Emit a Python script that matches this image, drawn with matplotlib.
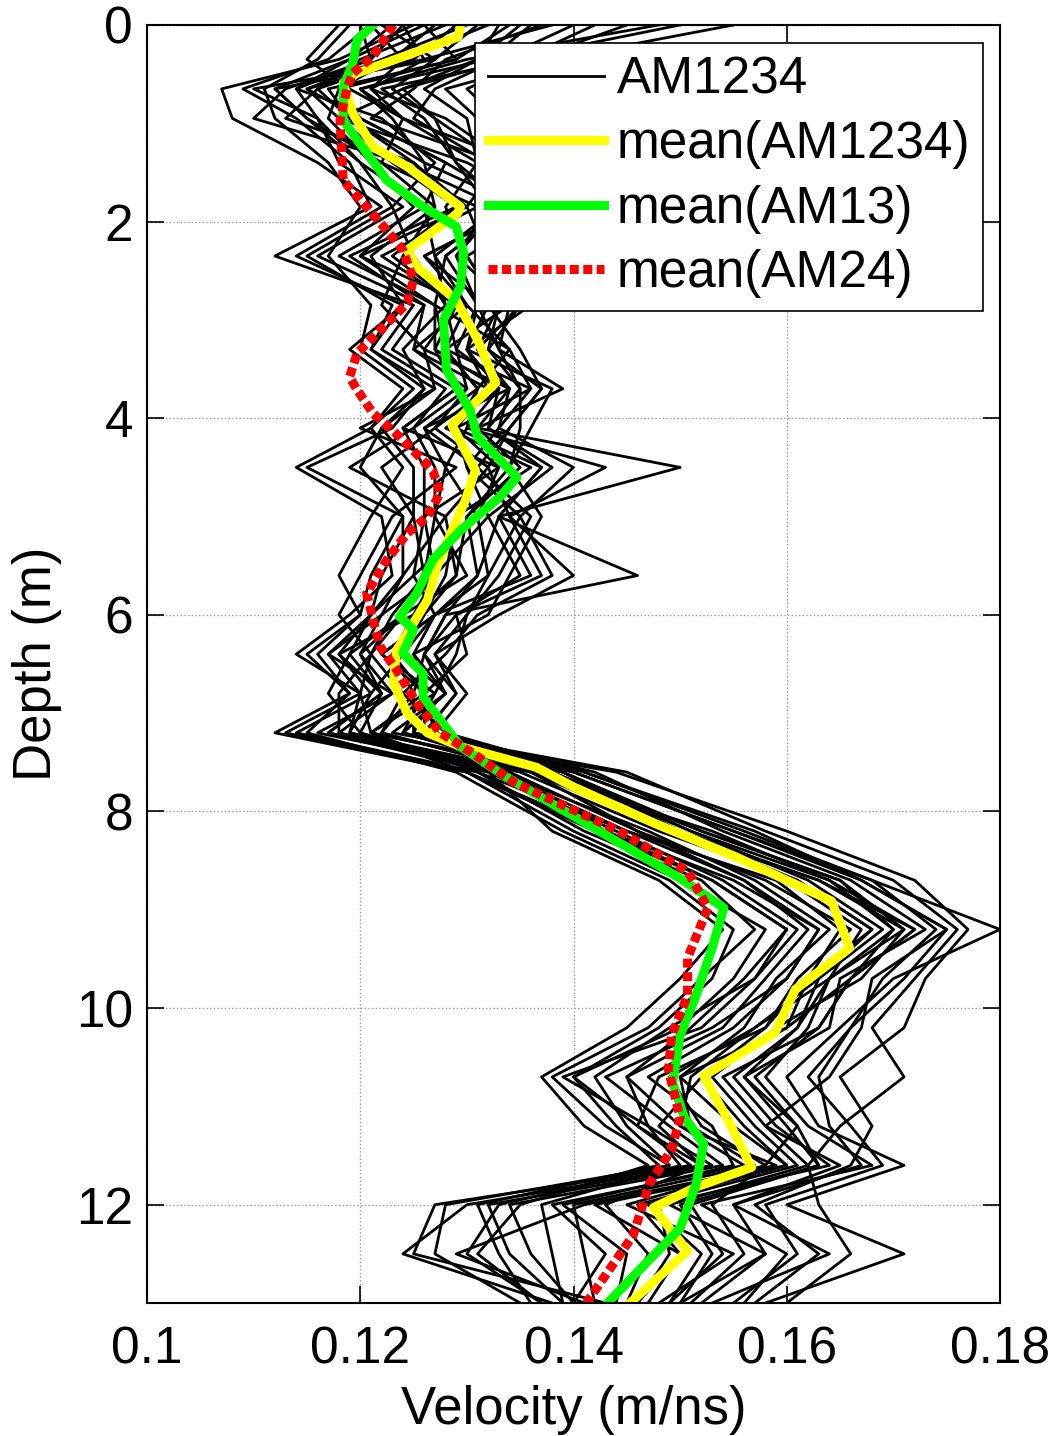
import numpy as np
import matplotlib
matplotlib.use("Agg")
import matplotlib.pyplot as plt

plt.rcParams['font.family'] = ['Liberation Sans', 'DejaVu Sans']

# depths (m) at which the individual AM1234 profiles are sampled
depth = [0.0, 0.35, 0.65, 0.95, 1.4, 1.85, 2.35, 2.85, 3.3, 3.7, 4.1, 4.5, 5.0, 5.6, 6.0,
         6.4, 6.8, 7.2, 7.6, 8.2, 8.7, 9.2, 9.7, 10.2, 10.7, 11.2, 11.6, 12.0, 12.5, 13.0]

# individual velocity profiles, mm/ns
profiles = [
    [125, 118, 107, 108, 116, 122, 114, 124, 121, 126, 123, 115, 124, 121, 120, 115, 119, 112, 130, 140, 150, 158, 155, 150, 140, 146, 152, 130, 124, 138],
    [155, 138, 128, 131, 136, 133, 129, 134, 133, 139, 131, 150, 133, 146, 128, 126, 129, 126, 140, 155, 168, 180, 170, 165, 160, 163, 171, 160, 171, 158],
    [130, 122, 115, 120, 128, 135, 126, 130, 134, 136, 129, 133, 131, 125, 127, 122, 126, 124, 137, 150, 163, 172, 166, 160, 150, 155, 160, 142, 150, 146],
    [122, 127, 112, 115, 120, 126, 118, 127, 128, 131, 126, 128, 127, 130, 124, 119, 122, 117, 133, 145, 156, 162, 158, 154, 145, 150, 156, 138, 143, 140],
    [135, 131, 124, 118, 130, 138, 130, 133, 131, 134, 133, 140, 135, 138, 131, 128, 124, 128, 141, 157, 167, 175, 168, 167, 164, 158, 165, 155, 158, 152],
    [118, 115, 119, 124, 122, 127, 121, 124, 119, 124, 121, 114, 122, 123, 119, 114, 120, 121, 131, 141, 152, 157, 152, 147, 138, 143, 149, 128, 127, 135],
    [140, 133, 127, 125, 132, 131, 134, 132, 135, 137, 134, 131, 136, 133, 130, 129, 127, 125, 145, 158, 170, 176, 172, 168, 171, 165, 162, 163, 166, 160],
    [128, 120, 116, 113, 125, 129, 123, 129, 127, 133, 128, 136, 129, 128, 126, 124, 121, 119, 135, 148, 161, 168, 163, 157, 149, 152, 158, 145, 155, 148],
    [124, 126, 110, 116, 118, 124, 116, 126, 123, 129, 124, 126, 126, 127, 122, 117, 123, 116, 134, 143, 155, 163, 160, 153, 143, 149, 154, 134, 136, 140],
    [132, 124, 121, 128, 134, 140, 131, 135, 131, 133, 130, 143, 134, 140, 133, 127, 130, 127, 138, 152, 165, 170, 164, 162, 158, 162, 168, 152, 160, 156],
    [120, 121, 113, 110, 124, 133, 127, 128, 129, 130, 127, 122, 125, 126, 123, 121, 124, 122, 136, 146, 158, 166, 161, 158, 152, 148, 152, 143, 147, 145],
    [145, 136, 130, 133, 140, 136, 135, 136, 130, 138, 136, 134, 137, 134, 132, 125, 128, 123, 144, 160, 172, 177, 173, 171, 165, 168, 166, 157, 163, 157],
    [126, 129, 117, 119, 126, 127, 124, 122, 126, 127, 120, 129, 123, 120, 118, 121, 118, 118, 132, 138, 148, 154, 150, 145, 137, 141, 147, 135, 131, 137],
    [137, 128, 125, 121, 133, 130, 132, 131, 133, 135, 132, 138, 132, 135, 129, 130, 126, 127, 142, 154, 166, 173, 165, 164, 156, 160, 163, 150, 153, 150],
    [121, 117, 109, 114, 119, 121, 112, 125, 122, 128, 125, 119, 128, 129, 125, 118, 121, 114, 131, 145, 159, 165, 162, 158, 148, 146, 151, 127, 125, 143],
    [133, 131, 126, 130, 131, 128, 130, 133, 132, 135, 135, 134, 130, 131, 128, 126, 125, 125, 139, 151, 162, 169, 163, 161, 155, 159, 164, 148, 149, 146],
    [127, 123, 118, 117, 121, 125, 120, 130, 125, 132, 127, 132, 128, 124, 122, 120, 122, 120, 133, 147, 157, 164, 159, 156, 150, 151, 157, 140, 141, 142],
    [142, 135, 122, 126, 129, 134, 128, 127, 134, 131, 129, 137, 133, 136, 127, 124, 128, 124, 137, 149, 163, 171, 167, 159, 153, 157, 161, 147, 152, 149],
    [123, 119, 114, 122, 127, 123, 125, 128, 124, 126, 122, 125, 125, 122, 121, 119, 117, 120, 130, 143, 153, 160, 156, 151, 145, 147, 150, 137, 138, 139],
    [148, 130, 120, 124, 135, 137, 133, 134, 128, 136, 133, 130, 135, 132, 130, 127, 129, 126, 141, 156, 168, 174, 169, 166, 162, 166, 169, 158, 161, 155],
    [119, 116, 111, 112, 117, 120, 117, 121, 120, 125, 121, 124, 121, 118, 120, 116, 119, 115, 129, 139, 149, 155, 153, 148, 140, 144, 148, 131, 133, 136],
    [131, 127, 123, 127, 129, 132, 129, 131, 129, 134, 131, 135, 130, 129, 126, 123, 125, 122, 136, 153, 164, 170, 166, 163, 157, 161, 158, 153, 156, 151],
    [129, 125, 115, 118, 123, 129, 119, 126, 125, 130, 125, 127, 127, 126, 124, 120, 123, 118, 134, 146, 156, 163, 160, 155, 147, 153, 155, 139, 145, 144],
    [136, 132, 120, 123, 126, 135, 126, 132, 130, 132, 129, 130, 132, 127, 125, 123, 126, 121, 139, 150, 161, 168, 162, 160, 152, 156, 160, 146, 150, 147],
    [126, 119, 112, 115, 122, 131, 122, 129, 126, 134, 126, 131, 129, 127, 124, 121, 120, 119, 136, 149, 160, 167, 164, 157, 151, 150, 159, 141, 129, 141],
    [134, 129, 118, 120, 128, 126, 127, 130, 128, 131, 130, 128, 131, 132, 127, 122, 127, 121, 138, 151, 164, 172, 166, 163, 154, 158, 162, 149, 158, 150],
    [121, 124, 116, 119, 125, 130, 120, 127, 127, 129, 124, 133, 126, 125, 121, 118, 122, 117, 132, 144, 154, 161, 157, 152, 139, 147, 153, 132, 134, 139],
    [150, 134, 124, 127, 133, 132, 131, 135, 132, 137, 134, 132, 134, 137, 129, 126, 128, 124, 140, 155, 167, 175, 171, 166, 163, 164, 167, 155, 164, 153],
    [124, 121, 114, 116, 120, 123, 115, 123, 121, 127, 122, 120, 124, 124, 121, 117, 120, 113, 130, 142, 153, 160, 157, 149, 142, 145, 149, 133, 130, 137],
    [138, 126, 121, 124, 131, 134, 128, 131, 130, 133, 132, 137, 133, 131, 127, 125, 126, 126, 139, 152, 165, 171, 164, 161, 156, 161, 163, 151, 154, 149],
]

# mean(AM1234)
d_all = [0.0, 0.12, 0.49, 0.59, 0.9, 1.24, 1.44, 1.85, 1.92, 2.29, 2.46, 2.8, 3.2, 3.64, 4.07,
         4.53, 4.85, 5.27, 5.51, 5.85, 6.19, 6.36, 6.69, 7.0, 7.2, 7.34, 7.55, 7.75, 8.13, 8.46,
         8.91, 9.39, 9.81, 10.25, 10.69, 11.14, 11.62, 11.82, 12.03, 12.47, 13.0]
v_all = [0.1294, 0.1292, 0.1197, 0.1184, 0.1193, 0.1212, 0.1244, 0.1294, 0.1291, 0.1244, 0.1253,
         0.1290, 0.1310, 0.1327, 0.1286, 0.1308, 0.1298, 0.1281, 0.1272, 0.1263, 0.1244, 0.1234,
         0.1231, 0.1244, 0.1263, 0.1294, 0.1365, 0.1400, 0.1478, 0.1552, 0.1642, 0.1659, 0.1608,
         0.1589, 0.1522, 0.1545, 0.1567, 0.1515, 0.1475, 0.1507, 0.1453]

# mean(AM13)
d_13 = [0.0, 0.15, 0.39, 0.63, 0.97, 1.3, 1.58, 1.85, 2.05, 2.32, 2.66, 3.0, 3.51, 3.92, 4.19,
        4.6, 4.8, 5.14, 5.44, 5.78, 6.02, 6.15, 6.39, 6.6, 6.84, 7.07, 7.34, 7.65, 8.3, 8.68,
        8.98, 9.39, 9.87, 10.28, 10.76, 11.11, 11.38, 11.79, 12.24, 12.65, 13.0]
v_13 = [0.1212, 0.1197, 0.1193, 0.1184, 0.1184, 0.1206, 0.1225, 0.1259, 0.1290, 0.1297, 0.1294,
        0.1278, 0.1281, 0.1303, 0.1310, 0.1347, 0.1331, 0.1294, 0.1268, 0.1253, 0.1237, 0.1250,
        0.1240, 0.1259, 0.1259, 0.1275, 0.1294, 0.1337, 0.1440, 0.1500, 0.1541, 0.1530, 0.1515,
        0.1500, 0.1493, 0.1504, 0.1522, 0.1515, 0.1500, 0.1463, 0.1432]

# mean(AM24)
d_24 = [0.0, 0.32, 0.49, 0.63, 0.97, 1.58, 1.78, 2.09, 2.29, 2.59, 2.83, 3.1, 3.34, 3.58, 3.71,
        3.95, 4.19, 4.53, 4.76, 5.0, 5.17, 5.44, 5.78, 6.05, 6.33, 6.56, 6.9, 7.2, 7.41, 7.71,
        8.19, 8.61, 8.98, 9.49, 9.87, 10.28, 10.63, 11.11, 11.44, 11.79, 12.31, 13.0]
v_24 = [0.1231, 0.1212, 0.1193, 0.1188, 0.1181, 0.1184, 0.1200, 0.1225, 0.1240, 0.1250, 0.1244,
        0.1219, 0.1197, 0.1190, 0.1197, 0.1212, 0.1237, 0.1268, 0.1275, 0.1263, 0.1244, 0.1225,
        0.1206, 0.1212, 0.1219, 0.1234, 0.1253, 0.1275, 0.1306, 0.1345, 0.1441, 0.1507, 0.1526,
        0.1507, 0.1507, 0.1492, 0.1489, 0.1500, 0.1492, 0.1471, 0.1456, 0.1412]

fig = plt.figure(figsize=(10.59, 14.36), dpi=100)
ax = fig.add_axes([0.1388, 0.0926, 0.8055, 0.890])

for i, p in enumerate(profiles):
    ax.plot(np.array(p) / 1000.0, depth, color='black', lw=2.0,
            label='AM1234' if i == 0 else None)
ax.plot(v_all, d_all, color='#ffff00', lw=6.5, label='mean(AM1234)')
ax.plot(v_13, d_13, color='#00ff00', lw=6.5, label='mean(AM13)')
ax.plot(v_24, d_24, color='#ff0000', lw=6.5, linestyle=(0, (1, 0.5)),
        dash_capstyle='butt', label='mean(AM24)')

ax.set_xlim(0.1, 0.18)
ax.set_ylim(13, 0)
ax.set_xticks([0.1, 0.12, 0.14, 0.16, 0.18])
ax.set_xticklabels(['0.1', '0.12', '0.14', '0.16', '0.18'])
ax.set_yticks([0, 2, 4, 6, 8, 10, 12])
ax.grid(True, linestyle=':', color='#999999', lw=1)
ax.tick_params(direction='in', length=12, width=1.2, labelsize=37, top=True, right=True)
ax.tick_params(axis='x', pad=16)
ax.tick_params(axis='y', pad=10)
for s in ax.spines.values():
    s.set_linewidth(1.5)
ax.set_xlabel('Velocity (m/ns)', fontsize=38, labelpad=8)
ax.set_ylabel('Depth (m)', fontsize=38, labelpad=10)

leg = ax.legend(loc='upper right', bbox_to_anchor=(0.980, 0.986), borderaxespad=0,
                fontsize=37, fancybox=False, framealpha=1, edgecolor='black',
                handlelength=2.25, handletextpad=0.25, labelspacing=0.3, borderpad=0.25)
leg.get_frame().set_linewidth(1.2)

fig.savefig('out.png', dpi=100)
